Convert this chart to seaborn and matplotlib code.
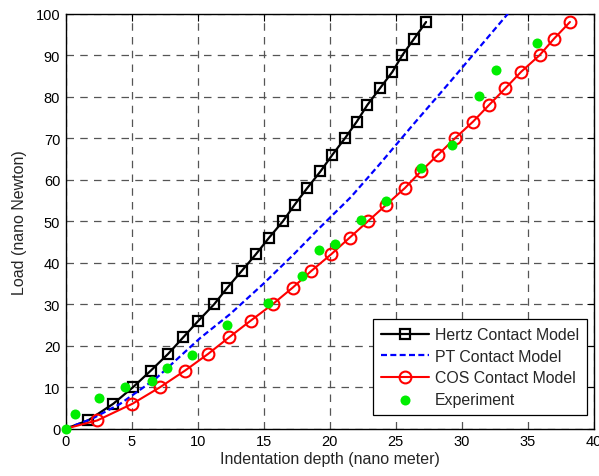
import numpy as np
import pandas as pd
import matplotlib
matplotlib.use("Agg")
import matplotlib.pyplot as plt
import seaborn as sns

# ---- data ----
load_model = [0, 2, 6, 10, 14, 18, 22, 26, 30, 34, 38, 42, 46, 50, 54, 58,
              62, 66, 70, 74, 78, 82, 86, 90, 94, 98]
hertz_depth = [0, 1.7, 3.6, 5.1, 6.45, 7.75, 8.9, 10.05, 11.25, 12.25, 13.33,
               14.4, 15.4, 16.46, 17.35, 18.3, 19.3, 20.2, 21.16, 22.05, 22.85,
               23.8, 24.75, 25.5, 26.4, 27.3]
cos_depth = [0, 2.4, 5.05, 7.15, 9.04, 10.78, 12.37, 14.0, 15.68, 17.2, 18.6,
             20.1, 21.5, 22.9, 24.3, 25.7, 26.9, 28.2, 29.5, 30.86, 32.07, 33.3,
             34.5, 35.9, 37.0, 38.2]
pt_depth = [0, 2.0, 4.11, 6.8, 10.17, 12.45, 14.97, 17.24, 19.27, 21.6, 23.8,
            26.3, 29.1, 33.5]
pt_load = [0, 2.4, 5.95, 12.0, 21.8, 27.6, 34.9, 41.9, 48.5, 55.8, 63.8, 73.2,
           83.5, 100]
exp_depth = [0, 0.68, 2.52, 4.5, 6.5, 7.7, 9.6, 12.2, 15.3, 17.9, 19.2, 20.4,
             22.35, 24.3, 26.9, 29.3, 31.3, 32.6, 35.7]
exp_load = [0, 3.6, 7.4, 10, 11.6, 14.6, 17.7, 24.9, 30.4, 36.7, 43, 44.6,
            50.4, 54.8, 62.7, 68.3, 80.2, 86.5, 92.9]

x_ticks = [0, 5, 10, 15, 20, 25, 30, 35, 40]
y_ticks = [0, 10, 20, 30, 40, 50, 60, 70, 80, 90, 100]

sns.set_style("white")
plt.rcParams['font.family'] = ['Liberation Sans', 'DejaVu Sans']
plt.rcParams['font.size'] = 10

fig = plt.figure(figsize=(5.99, 4.77), dpi=100)
ax = fig.add_axes([0.1097, 0.0992, 0.8815, 0.8700])

hertz_df = pd.DataFrame({"x": hertz_depth, "y": load_model})
cos_df = pd.DataFrame({"x": cos_depth, "y": load_model})
pt_df = pd.DataFrame({"x": pt_depth, "y": pt_load})
exp_df = pd.DataFrame({"x": exp_depth, "y": exp_load})

sns.lineplot(data=hertz_df, x="x", y="y", ax=ax, sort=False, estimator=None,
             color="black", linewidth=1.6, marker="s", markersize=7.5,
             markerfacecolor="none", markeredgecolor="black",
             markeredgewidth=1.6, markevery=slice(1, None),
             label="Hertz Contact Model", zorder=3)
sns.lineplot(data=pt_df, x="x", y="y", ax=ax, sort=False, estimator=None,
             color="#0000ff", linewidth=1.6, linestyle=(0, (2.7, 1.5)),
             label="PT Contact Model", zorder=3)
sns.lineplot(data=cos_df, x="x", y="y", ax=ax, sort=False, estimator=None,
             color="#ff0000", linewidth=1.5, marker="o", markersize=8.5,
             markerfacecolor="none", markeredgecolor="#ff0000",
             markeredgewidth=1.5, markevery=slice(1, None),
             label="COS Contact Model", zorder=3)
sns.scatterplot(data=exp_df, x="x", y="y", ax=ax, color="#00ee00",
                marker="o", s=52, linewidth=0, label="Experiment", zorder=4,
                clip_on=False)

ax.set_xlim(0, 40)
ax.set_ylim(0, 100)
ax.set_xticks(x_ticks)
ax.set_yticks(y_ticks)
ax.grid(True, color="#555555", linestyle=(0, (6, 5)), linewidth=0.9)
ax.set_axisbelow(True)
ax.tick_params(direction="in", length=5, width=0.8, top=True, right=True,
               labelsize=10.5, colors="black", pad=4)
for s in ax.spines.values():
    s.set_visible(True)
    s.set_color("black")
    s.set_linewidth(1.0)

ax.set_xlabel("Indentation depth (nano meter)", fontsize=11.5, labelpad=2)
ax.set_ylabel("Load (nano Newton)", fontsize=11.5, labelpad=6)

leg = ax.legend(loc="lower right", bbox_to_anchor=(0.9873, 0.033),
                frameon=True, fancybox=False, fontsize=11.4,
                handlelength=3.0, borderpad=0.5, labelspacing=0.42,
                handletextpad=0.4, borderaxespad=0.0,
                edgecolor="black", framealpha=1)
leg.get_frame().set_linewidth(0.9)

fig.savefig("out.png", dpi=100)
